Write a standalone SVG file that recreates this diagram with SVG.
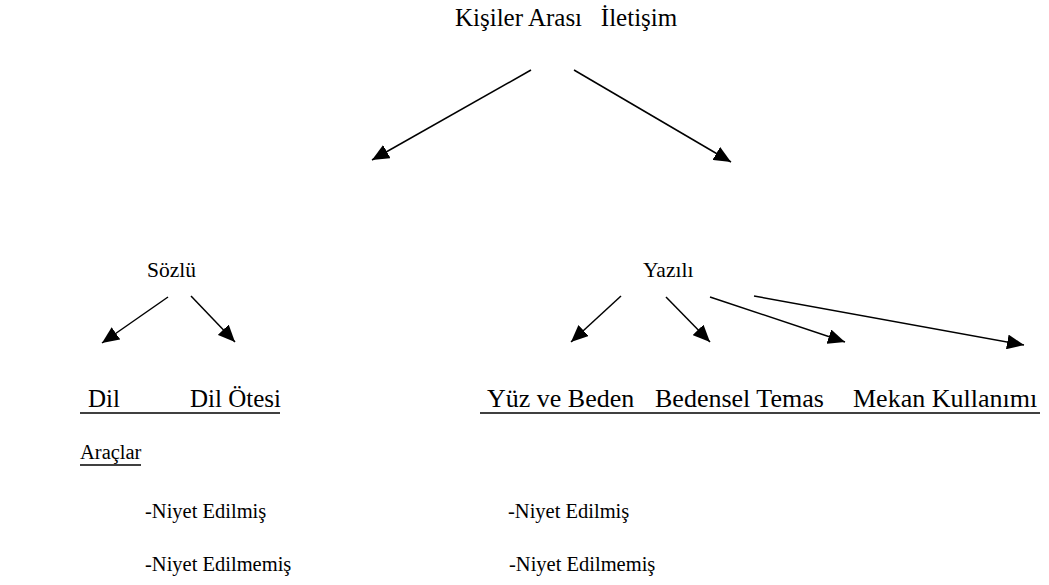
<svg xmlns="http://www.w3.org/2000/svg" width="1049" height="585" viewBox="0 0 1049 585">
<style>
.t{font-family:'Liberation Serif','Times New Roman','DejaVu Serif',serif;fill:#000}
.h{font-size:25px}
.m{font-size:21.5px}
.r{font-size:26px}
.l{font-size:25px}
.s{font-size:20.5px}
.c line{stroke:#000;stroke-width:1.5}
.u{stroke:#000;stroke-width:1.3}
</style>
<defs>
<marker id="ah" markerUnits="userSpaceOnUse" markerWidth="18" markerHeight="15" refX="17" refY="7.5" orient="auto">
<path d="M0,0 L17,7.5 L0,15 Z" fill="#000"/>
</marker>
</defs>
<rect width="1049" height="585" fill="#fff"/>
<g class="t">
<g id="n-root"><text class="h" x="455" y="26" xml:space="preserve">Kişiler Arası   İletişim</text></g>
<g id="n-sozlu"><text class="m" x="147" y="277">Sözlü</text></g>
<g id="n-yazili"><text class="m" x="643" y="277">Yazılı</text></g>
<g id="n-dil"><text class="l" x="88" y="407">Dil</text></g>
<g id="n-dilotesi"><text class="l" x="190" y="407">Dil Ötesi</text></g>
<g id="n-yuz"><text class="r" x="487" y="407">Yüz ve Beden</text></g>
<g id="n-temas"><text class="r" x="655" y="407">Bedensel Temas</text></g>
<g id="n-mekan"><text class="r" x="853" y="407">Mekan Kullanımı</text></g>
<g id="n-araclar"><text class="s" x="80" y="459">Araçlar</text></g>
<g id="n-l1"><text class="s" x="145" y="518">-Niyet Edilmiş</text></g>
<g id="n-l2"><text class="s" x="145" y="571">-Niyet Edilmemiş</text></g>
<g id="n-r1"><text class="s" x="508" y="518">-Niyet Edilmiş</text></g>
<g id="n-r2"><text class="s" x="509" y="571">-Niyet Edilmemiş</text></g>
</g>
<g id="underlines">
<line class="u" x1="80" y1="413" x2="280" y2="413"/>
<line class="u" x1="480" y1="413" x2="1040" y2="413"/>
<line class="u" x1="80" y1="465" x2="141" y2="465"/>
</g>
<g class="c" id="connectors">
<line x1="531" y1="70" x2="372" y2="160" marker-end="url(#ah)"/>
<line x1="574" y1="70" x2="731" y2="162" marker-end="url(#ah)"/>
<line x1="168" y1="297" x2="102" y2="343" marker-end="url(#ah)"/>
<line x1="191" y1="296" x2="235" y2="342" marker-end="url(#ah)"/>
<line x1="621" y1="296" x2="571" y2="342" marker-end="url(#ah)"/>
<line x1="666" y1="297" x2="710" y2="342" marker-end="url(#ah)"/>
<line x1="710" y1="297" x2="845" y2="342" marker-end="url(#ah)"/>
<line x1="754" y1="296" x2="1024" y2="345" marker-end="url(#ah)"/>
</g>
</svg>
